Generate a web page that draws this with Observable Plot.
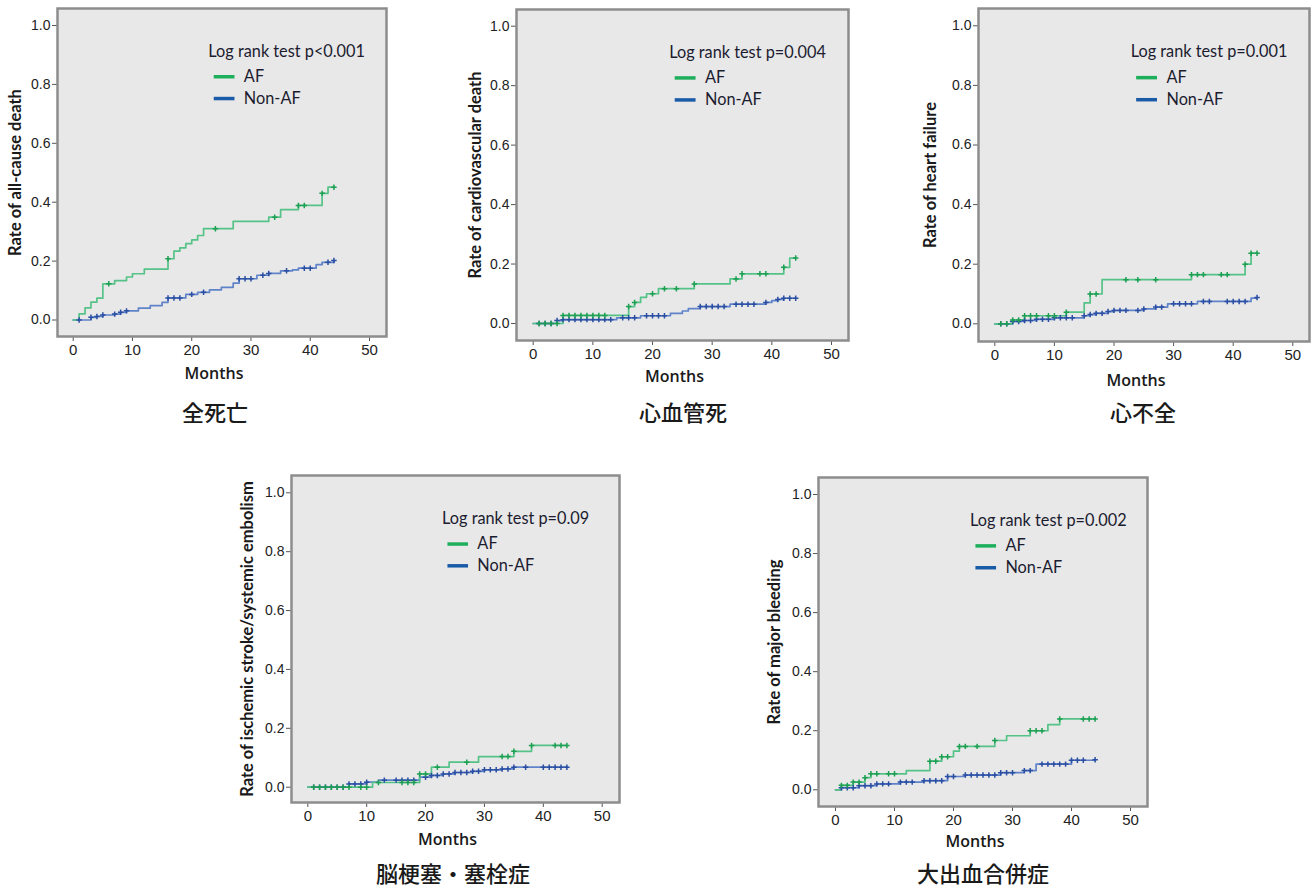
<!DOCTYPE html>
<html><head><meta charset="utf-8">
<script src="https://cdn.jsdelivr.net/npm/d3@7"></script>
<script src="https://cdn.jsdelivr.net/npm/@observablehq/plot@0.6"></script>
<style>
body{margin:0;background:#fff;}
#root{position:relative;width:1314px;height:889px;overflow:hidden;background:#fff;}
#root svg{position:absolute;}
.ttl{position:absolute;font-family:"Noto Sans CJK JP";font-size:22px;line-height:1;font-weight:500;color:#1a1a1a;transform:translate(-50%,-50%);white-space:nowrap;}
</style></head>
<body><div id="root"></div>
<script>
// ---------- labels ----------
const panelTitles = ["全死亡", "心血管死", "心不全", "脳梗塞・塞栓症", "大出血合併症"];
const yLabels = ["Rate of all-cause death", "Rate of cardiovascular death", "Rate of heart failure",
  "Rate of ischemic stroke/systemic embolism", "Rate of major bleeding"];
const logRank = ["Log rank test p<0.001", "Log rank test p=0.004", "Log rank test p=0.001",
  "Log rank test p=0.09", "Log rank test p=0.002"];
const groups = ["AF", "Non-AF"];
const monthTicks = [0, 10, 20, 30, 40, 50];
const rateTicks = [0, 0.2, 0.4, 0.6, 0.8, 1.0];

// ---------- all-cause death ----------
const deathAF_t = [0, 1, 2, 3, 4, 5, 7, 9, 10, 12, 16, 17, 18, 19, 20, 21, 22, 27, 33, 35, 38, 42, 43, 44];
const deathAF_v = [0, 0.021, 0.041, 0.061, 0.074, 0.123, 0.134, 0.146, 0.157, 0.173, 0.208, 0.234, 0.245, 0.259, 0.272, 0.287, 0.31, 0.335, 0.349, 0.375, 0.389, 0.43, 0.451, 0.451];
const deathAF_c = [6, 16, 24, 34, 38, 39, 42, 44];
const deathNon_t = [0, 3, 4, 5, 7, 8, 9, 11, 13, 15, 16, 19, 21, 23, 25, 27, 28, 31, 33, 35, 37, 38, 41, 42, 44];
const deathNon_v = [0, 0.009, 0.012, 0.017, 0.02, 0.026, 0.031, 0.04, 0.049, 0.06, 0.075, 0.087, 0.094, 0.102, 0.111, 0.125, 0.14, 0.152, 0.158, 0.167, 0.17, 0.176, 0.188, 0.196, 0.202];
const deathNon_c = [1, 3, 4, 5, 7, 8, 9, 16, 17, 18, 20, 22, 28, 29, 30, 32, 33, 36, 39, 40, 43, 44];

// ---------- cardiovascular death ----------
const cvAF_t = [0, 5, 16, 17, 18, 19, 21, 27, 33, 35, 42, 43, 44];
const cvAF_v = [0, 0.027, 0.057, 0.071, 0.088, 0.1, 0.117, 0.133, 0.15, 0.167, 0.189, 0.22, 0.22];
const cvAF_c = [1, 2, 3, 4, 5, 6, 7, 8, 9, 10, 11, 12, 16, 17, 20, 22, 24, 27, 34, 35, 38, 39, 42, 44];
const cvNon_t = [0, 4, 5, 14, 18, 23, 25, 26, 28, 33, 39, 40, 41, 42, 44];
const cvNon_v = [0, 0.01, 0.013, 0.019, 0.026, 0.034, 0.042, 0.05, 0.057, 0.065, 0.071, 0.077, 0.081, 0.085, 0.085];
const cvNon_c = [1, 2, 3, 4, 5, 6, 7, 8, 9, 10, 11, 12, 13, 15, 16, 17, 19, 20, 21, 22, 28, 29, 30, 31, 32, 34, 35, 36, 37, 39, 41, 42, 43, 44];

// ---------- heart failure ----------
const hfAF_t = [0, 3, 5, 12, 15, 16, 18, 33, 42, 43, 44];
const hfAF_v = [0, 0.013, 0.027, 0.039, 0.07, 0.1, 0.148, 0.165, 0.2, 0.237, 0.237];
const hfAF_c = [1, 2, 3, 4, 5, 6, 7, 9, 10, 12, 16, 17, 22, 24, 27, 33, 34, 35, 38, 39, 42, 43, 44];
const hfNon_t = [0, 3, 5, 7, 10, 15, 16, 17, 19, 20, 25, 27, 29, 34, 43, 44];
const hfNon_v = [0, 0.008, 0.011, 0.015, 0.02, 0.027, 0.031, 0.035, 0.041, 0.045, 0.05, 0.056, 0.067, 0.075, 0.086, 0.088];
const hfNon_c = [1, 2, 3, 4, 5, 6, 7, 8, 9, 10, 11, 12, 13, 15, 16, 17, 18, 19, 20, 21, 22, 24, 25, 27, 28, 30, 31, 32, 33, 35, 36, 39, 40, 41, 42, 44];

// ---------- ischemic stroke / systemic embolism ----------
const strokeAF_t = [0, 11, 19, 21, 24, 29, 35, 38, 44];
const strokeAF_v = [0, 0.016, 0.045, 0.068, 0.085, 0.104, 0.122, 0.142, 0.142];
const strokeAF_c = [1, 2, 3, 4, 5, 6, 7, 9, 10, 12, 16, 17, 18, 19, 20, 22, 27, 33, 34, 35, 38, 42, 43, 44];
const strokeNon_t = [0, 7, 10, 12, 19, 21, 23, 25, 28, 30, 33, 35, 44];
const strokeNon_v = [0, 0.011, 0.017, 0.024, 0.034, 0.04, 0.045, 0.05, 0.054, 0.059, 0.062, 0.068, 0.068];
const strokeNon_c = [1, 2, 3, 4, 5, 6, 7, 8, 9, 10, 13, 15, 16, 17, 18, 20, 21, 22, 23, 24, 25, 26, 27, 28, 29, 30, 31, 32, 33, 34, 35, 37, 40, 41, 42, 43, 44];

// ---------- major bleeding ----------
const bleedAF_t = [0, 1, 3, 5, 6, 12, 16, 18, 20, 21, 27, 29, 33, 36, 38, 44];
const bleedAF_v = [0, 0.015, 0.026, 0.041, 0.054, 0.065, 0.097, 0.112, 0.131, 0.147, 0.167, 0.183, 0.2, 0.221, 0.24, 0.24];
const bleedAF_c = [1, 2, 3, 4, 5, 6, 7, 9, 10, 16, 17, 18, 19, 21, 22, 24, 27, 33, 34, 35, 38, 42, 43, 44];
const bleedNon_t = [0, 1, 4, 7, 11, 15, 19, 22, 28, 32, 34, 40, 44];
const bleedNon_v = [0, 0.007, 0.014, 0.02, 0.026, 0.031, 0.045, 0.05, 0.058, 0.065, 0.087, 0.1, 0.102];
const bleedNon_c = [1, 2, 3, 4, 5, 6, 7, 8, 9, 11, 12, 13, 15, 16, 17, 18, 19, 20, 22, 23, 24, 25, 26, 27, 28, 29, 30, 32, 33, 35, 36, 37, 38, 39, 40, 41, 42, 44];

const series = [
  [deathAF_t, deathAF_v, deathAF_c, deathNon_t, deathNon_v, deathNon_c],
  [cvAF_t, cvAF_v, cvAF_c, cvNon_t, cvNon_v, cvNon_c],
  [hfAF_t, hfAF_v, hfAF_c, hfNon_t, hfNon_v, hfNon_c],
  [strokeAF_t, strokeAF_v, strokeAF_c, strokeNon_t, strokeNon_v, strokeNon_c],
  [bleedAF_t, bleedAF_v, bleedAF_c, bleedNon_t, bleedNon_v, bleedNon_c]
];

// ---------- layout (pixel geometry of each panel) ----------
const layouts = [
  {box: [57, 8, 386, 336], x0: 72.7, x50: 369, y1: 25, y0: 319.5, ylx: -42, mdy: 37, title: [215, 411]},
  {box: [516, 9, 848, 340], x0: 532.7, x50: 831, y1: 25.7, y0: 323, ylx: -41, mdy: 36, title: [683, 411]},
  {box: [978, 8, 1309, 341], x0: 994.3, x50: 1292.3, y1: 25.3, y0: 323.3, ylx: -48, mdy: 39, title: [1143, 411]},
  {box: [291, 475, 619, 802], x0: 307.3, x50: 601.7, y1: 492.3, y0: 786.7, ylx: -44, mdy: 37, title: [453, 872]},
  {box: [818, 477, 1147, 806], x0: 835, x50: 1130, y1: 494, y0: 789.3, ylx: -44, mdy: 35, title: [983, 872]}
];

const C = {afLine: "#55c287", afMark: "#1d9f52", nonLine: "#5f82c8", nonMark: "#2a4ea2",
  afLeg: "#1eaf5c", nonLeg: "#1a5ba8"};

function stepAt(ts, vs, t) {
  let v = vs[0];
  for (let i = 0; i < ts.length; i++) if (ts[i] <= t) v = vs[i];
  return v;
}

const root = document.getElementById("root");

layouts.forEach((lay, k) => {
  const [L, T, R, B] = lay.box;
  const ML = 80, MR = 4, MT = 4, MB = 60;
  const W = R - L + ML + MR, H = B - T + MT + MB;
  const kx = 50 / (lay.x50 - lay.x0);
  const xDom = [-(lay.x0 - L) * kx, 50 + (R - lay.x50) * kx];
  const ky = 1 / (lay.y0 - lay.y1);
  const yDom = [-(B - lay.y0) * ky, 1 + (lay.y1 - T) * ky];
  const [at, av, ac, nt, nv, nc] = series[k];
  const af = at.map((t, i) => ({t, v: av[i]}));
  const non = nt.map((t, i) => ({t, v: nv[i]}));
  const afC = ac.map(t => ({t, v: stepAt(at, av, t)}));
  const nonC = nc.map(t => ({t, v: stepAt(nt, nv, t)}));

  const svg = Plot.plot({
    width: W, height: H,
    marginLeft: ML, marginRight: MR, marginTop: MT, marginBottom: MB,
    x: {domain: xDom}, y: {domain: yDom},
    style: {background: "transparent", overflow: "visible", fontFamily: "Liberation Sans", fontSize: "15px", color: "#222"},
    marks: [
      Plot.frame({fill: "#e8e8e8"}),
      Plot.axisX(monthTicks, {tickSize: 5, tickPadding: 3, fontSize: 15, label: null, stroke: "#555"}),
      Plot.axisY(rateTicks, {tickSize: 5, tickPadding: 2, fontSize: 14, tickFormat: ".1f", label: null, stroke: "#555"}),
      Plot.line(non, {x: "t", y: "v", curve: "step-after", stroke: C.nonLine, strokeWidth: 1.7}),
      Plot.line(af, {x: "t", y: "v", curve: "step-after", stroke: C.afLine, strokeWidth: 1.7}),
      Plot.dot(nonC, {x: "t", y: "v", symbol: "plus", r: 1.9, stroke: C.nonMark, strokeWidth: 1.5}),
      Plot.dot(afC, {x: "t", y: "v", symbol: "plus", r: 1.9, stroke: C.afMark, strokeWidth: 1.5}),
      Plot.frame({stroke: "#8d8d8d", strokeWidth: 2.5}),
      // legend
      Plot.text([logRank[k]], {x: 22.8, y: 0.912, text: d => d, textAnchor: "start", fontFamily: "Lato", fontSize: 16.3, fill: "#1c1c30"}),
      Plot.ruleY([0.826], {x1: 23.8, x2: 27.3, stroke: C.afLeg, strokeWidth: 3.5}),
      Plot.ruleY([0.752], {x1: 23.8, x2: 27.3, stroke: C.nonLeg, strokeWidth: 3.5}),
      Plot.text([groups[0]], {x: 28.8, y: 0.826, text: d => d, textAnchor: "start", fontFamily: "Lato", fontSize: 16.3, fill: "#1c1c30"}),
      Plot.text([groups[1]], {x: 28.8, y: 0.752, text: d => d, textAnchor: "start", fontFamily: "Lato", fontSize: 16.3, fill: "#1c1c30"}),
      // axis titles
      Plot.text(["Months"], {frameAnchor: "bottom", lineAnchor: "middle", dy: lay.mdy, dx: -8, text: d => d, fontFamily: "Open Sans", fontWeight: 600, fontSize: 16, fill: "#1a1a1a"}),
      Plot.text([yLabels[k]], {frameAnchor: "left", textAnchor: "middle", lineAnchor: "middle", rotate: -90, dx: lay.ylx, text: d => d, fontFamily: "Lato", fontWeight: 700, fontSize: 16.5, fill: "#1a1a1a"})
    ]
  });
  svg.style.left = (L - ML) + "px";
  svg.style.top = (T - MT) + "px";
  root.appendChild(svg);

  const t = document.createElement("div");
  t.className = "ttl";
  t.textContent = panelTitles[k];
  t.style.left = lay.title[0] + "px";
  t.style.top = lay.title[1] + "px";
  root.appendChild(t);
});
</script>
</body></html>
